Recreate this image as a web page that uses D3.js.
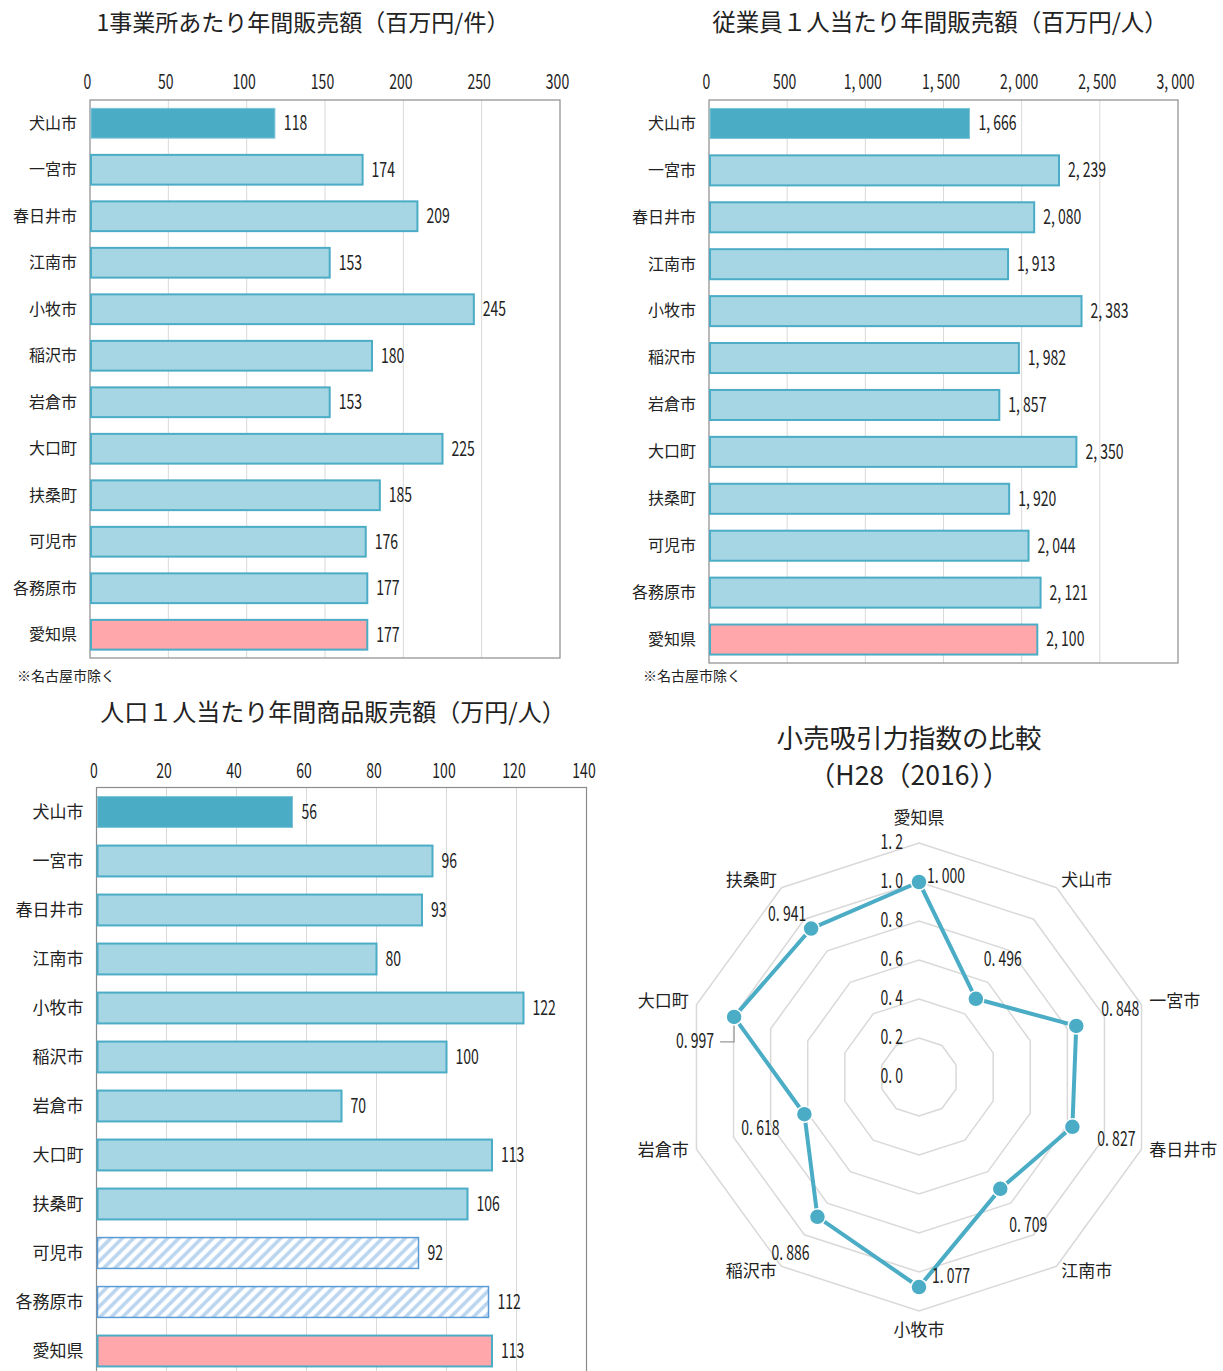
<!DOCTYPE html>
<html><head><meta charset="utf-8">
<script src="https://cdn.jsdelivr.net/npm/d3@7"></script>
<style>
body{margin:0;background:#fff;}
svg{display:block;}
.jp{font-family:"Noto Sans CJK JP","Noto Sans",sans-serif;fill:#222;}
.num{font-family:"Noto Sans CJK JP","Noto Sans",sans-serif;fill:#222;}
</style></head>
<body>
<svg id="c" width="1223" height="1371"></svg>
<script>
// ---------- DATA ----------
const barCategories = ["犬山市","一宮市","春日井市","江南市","小牧市","稲沢市","岩倉市","大口町","扶桑町","可児市","各務原市","愛知県"];
const salesPerEstablishment = [118,174,209,153,245,180,153,225,185,176,177,177];
const salesPerEmployee = [1666,2239,2080,1913,2383,1982,1857,2350,1920,2044,2121,2100];
const salesPerCapita = [56,96,93,80,122,100,70,113,106,92,112,113];
const ticks1 = [0,50,100,150,200,250,300];
const ticks2 = [0,500,1000,1500,2000,2500,3000];
const ticks3 = [0,20,40,60,80,100,120,140];
const radarCategories = ["愛知県","犬山市","一宮市","春日井市","江南市","小牧市","稲沢市","岩倉市","大口町","扶桑町"];
const radarValues = [1.000,0.496,0.848,0.827,0.709,1.077,0.886,0.618,0.997,0.941];
const radarTicks = [0.0,0.2,0.4,0.6,0.8,1.0,1.2];
const hatchedCategories = ["可児市","各務原市"];

// ---------- DRAW ----------
const svg = d3.select("#c");
const defs = svg.append("defs");
const pat = defs.append("pattern").attr("id","hatch").attr("patternUnits","userSpaceOnUse")
  .attr("width",8).attr("height",8).attr("patternTransform","rotate(45)");
pat.append("rect").attr("width",8).attr("height",8).attr("fill","#fff");
pat.append("line").attr("x1",2).attr("y1",0).attr("x2",2).attr("y2",8)
  .attr("stroke","#B8D4EE").attr("stroke-width",3.5);

const C_DARK="#4BACC6", C_LIGHT="#A6D6E3", C_PINK="#FFA7AB";
const NFS = 20;          // numeric font size
const fmt = d3.format(",");

function barChart(o){
  const g = svg.append("g");
  const x = d3.scaleLinear().domain(o.domain).range([o.x0,o.x1]);
  const y = d3.scaleBand().domain(barCategories).range([o.y0,o.y1]).paddingInner(o.pad).paddingOuter(o.pad/2);
  g.append("text").attr("class","jp").attr("x",o.tx).attr("y",o.ty).attr("text-anchor","middle")
    .attr("dominant-baseline","middle").attr("font-size",o.tfs).text(o.title);
  // grid
  g.selectAll(".grid").data(o.ticks.slice(1,-1)).join("line")
    .attr("x1",d=>x(d)).attr("x2",d=>x(d)).attr("y1",o.y0).attr("y2",o.y1)
    .attr("stroke","#d9d9d9").attr("stroke-width",1);
  // axis via d3
  const ax = g.append("g").attr("transform",`translate(0,${o.y0})`)
    .call(d3.axisTop(x).tickValues(o.ticks).tickFormat(o.tickFmt).tickSize(0).tickPadding(o.tickPad));
  ax.select(".domain").remove();
  ax.attr("font-family",null);
  ax.selectAll("text").attr("class","num").attr("font-size",NFS).attr("fill","#222").attr("dx",-3);
  // border
  g.append("rect").attr("x",o.x0).attr("y",o.y0).attr("width",o.x1-o.x0).attr("height",o.y1-o.y0)
    .attr("fill","none").attr("stroke","#8c8c8c").attr("stroke-width",1.2);
  // bars
  g.selectAll(".bar").data(barCategories).join("rect")
    .attr("x",x(0)+1).attr("y",d=>y(d))
    .attr("width",(d,i)=>x(o.values[i])-x(0)-1).attr("height",y.bandwidth())
    .attr("fill",(d,i)=> i===0?C_DARK : d==="愛知県"?C_PINK : (o.hatch && hatchedCategories.includes(d))?"url(#hatch)":C_LIGHT)
    .attr("stroke",(d,i)=> i===0?"#7cc3d6" : (o.hatch && hatchedCategories.includes(d))?"#5B9BD5":C_DARK)
    .attr("stroke-width",(d,i)=> i===0?1:(o.hatch && hatchedCategories.includes(d))?1.5:2);
  // value labels
  g.selectAll(".val").data(barCategories).join("text").attr("class","num")
    .attr("x",(d,i)=>x(o.values[i])+9).attr("y",d=>y(d)+y.bandwidth()/2+1.5)
    .attr("dominant-baseline","middle").attr("font-size",NFS)
    .text((d,i)=>o.valFmt(o.values[i]));
  // category labels
  g.selectAll(".cat").data(barCategories).join("text").attr("class","jp")
    .attr("x",o.x0-13).attr("y",d=>y(d)+y.bandwidth()/2+1)
    .attr("text-anchor","end").attr("dominant-baseline","middle").attr("font-size",o.cfs)
    .text(d=>d);
  if(o.note){
    g.append("text").attr("class","jp").attr("x",o.note[0]).attr("y",o.note[1])
      .attr("dominant-baseline","middle").attr("font-size",14).text("※名古屋市除く");
  }
}

barChart({title:"1事業所あたり年間販売額（百万円/件）",tx:303,ty:25,tfs:23,
  domain:[0,300],ticks:ticks1,tickFmt:d3.format("d"),valFmt:d3.format("d"),
  values:salesPerEstablishment,x0:90,x1:560,y0:100,y1:658,pad:0.36,tickPad:11,cfs:16,note:[17,677]});
barChart({title:"従業員１人当たり年間販売額（百万円/人）",tx:940,ty:25,tfs:23.5,
  domain:[0,3000],ticks:ticks2,tickFmt:d=>fmt(d).replace(",",", "),valFmt:d=>fmt(d).replace(",",", "),
  values:salesPerEmployee,x0:709,x1:1178,y0:100,y1:663,pad:0.36,tickPad:11,cfs:16,note:[643,677]});
barChart({title:"人口１人当たり年間商品販売額（万円/人）",tx:333,ty:714,tfs:24,
  domain:[0,140],ticks:ticks3,tickFmt:d3.format("d"),valFmt:d3.format("d"),
  values:salesPerCapita,x0:96.5,x1:586.5,y0:787.5,y1:1375.5,pad:0.37,tickPad:10,cfs:17,hatch:true});

// ---------- RADAR ----------
const cx=919, cy=1077;
const rg = svg.append("g");
rg.append("text").attr("class","jp").attr("x",909).attr("y",741).attr("text-anchor","middle")
  .attr("dominant-baseline","middle").attr("font-size",26.5).text("小売吸引力指数の比較");
rg.append("text").attr("class","jp").attr("x",909).attr("y",778).attr("text-anchor","middle")
  .attr("dominant-baseline","middle").attr("font-size",26.5).text("（H28（2016））");
const r = d3.scaleLinear().domain([0,1.2]).range([0,234]);
const N = radarCategories.length;
const ang = i => i*2*Math.PI/N;
const pt = (i,v) => [cx + r(v)*Math.sin(ang(i)), cy - r(v)*Math.cos(ang(i))];
const ringLine = d3.line().curve(d3.curveLinearClosed);
rg.selectAll(".ring").data(radarTicks.slice(1)).join("path")
  .attr("d",t=>ringLine(radarCategories.map((c,i)=>pt(i,t))))
  .attr("fill","none").attr("stroke","#d9d9d9").attr("stroke-width",1.5);
rg.selectAll(".rt").data(radarTicks).join("text").attr("class","num")
  .attr("x",cx-16).attr("y",t=>cy-r(t)+1).attr("text-anchor","end").attr("dominant-baseline","middle")
  .attr("font-size",NFS).text(t=>t.toFixed(1).replace(".",". "));
// axis labels
rg.selectAll(".al").data(radarCategories).join("text").attr("class","jp")
  .each(function(d,i){
    const s=Math.sin(ang(i)), c=Math.cos(ang(i));
    const vert = Math.abs(s)<0.1;
    const off = vert ? (c>0 ? 24 : 20) : 8;
    const p = pt(i,1.2);
    const px = p[0] + off*s, py = p[1] - off*c;
    d3.select(this).attr("x",px).attr("y",py)
      .attr("text-anchor", vert?"middle":(s>0?"start":"end"))
      .attr("dominant-baseline","middle");
  })
  .attr("font-size",17).text(d=>d);
// series line
rg.append("path").attr("d",ringLine(radarValues.map((v,i)=>pt(i,v))))
  .attr("fill","none").attr("stroke",C_DARK).attr("stroke-width",4).attr("stroke-linejoin","round");
// leader line for 大口町
const iOg = radarCategories.indexOf("大口町");
const pOg = pt(iOg, radarValues[iOg]);
rg.append("path").attr("d",`M${pOg[0]},${pOg[1]+4}L${pOg[0]},${pOg[1]+25}L${pOg[0]-14},${pOg[1]+25}`)
  .attr("fill","none").attr("stroke","#999").attr("stroke-width",1.2);
rg.selectAll(".pt").data(radarValues).join("circle")
  .attr("cx",(v,i)=>pt(i,v)[0]).attr("cy",(v,i)=>pt(i,v)[1]).attr("r",8)
  .attr("fill",C_DARK).attr("stroke","#fff").attr("stroke-width",1.5);
// value label offsets (label placement, not data)
const labOff = [[27,-4],[27,-38],[44,-15],[44,14],[28,38],[32,-9],[-27,38],[-44,15],[-39,26],[-24,-13]];
rg.selectAll(".pv").data(radarValues).join("text").attr("class","num")
  .attr("x",(v,i)=>pt(i,v)[0]+labOff[i][0]).attr("y",(v,i)=>pt(i,v)[1]+labOff[i][1])
  .attr("text-anchor","middle").attr("dominant-baseline","middle").attr("font-size",NFS)
  .text(v=>v.toFixed(3).replace(".",". "));

// condense numeric text to mimic the narrow numeric face
svg.selectAll("text.num").each(function(){
  const len = this.getComputedTextLength();
  if(len>0){
    d3.select(this).attr("textLength",len*0.7).attr("lengthAdjust","spacingAndGlyphs");
  }
});
</script>
</body></html>
